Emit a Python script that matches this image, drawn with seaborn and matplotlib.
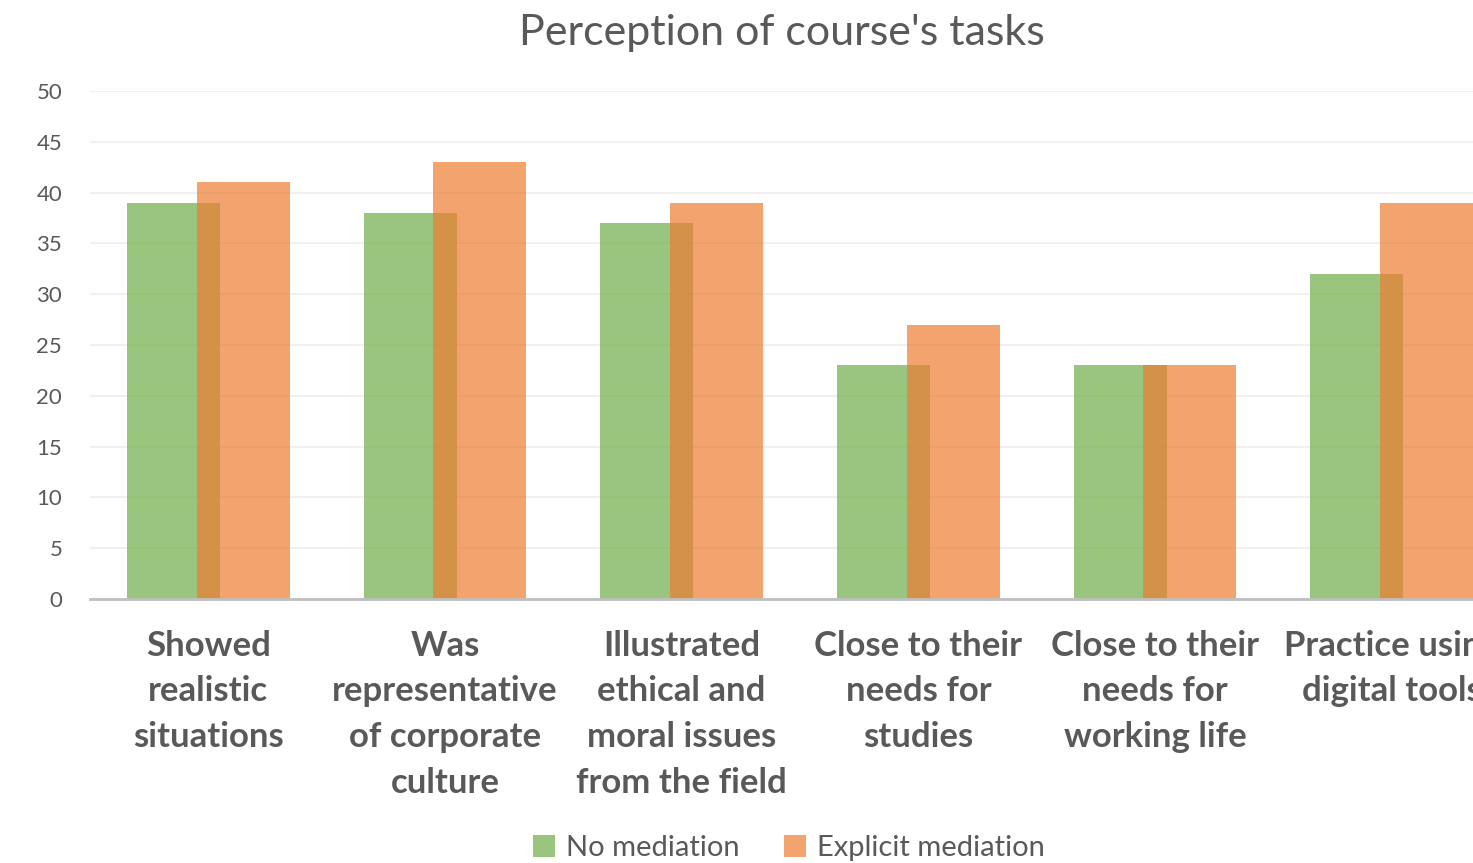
import pandas as pd
import matplotlib.pyplot as plt
import seaborn as sns

# data
categories = [
    "Showed\nrealistic\nsituations",
    "Was\nrepresentative\nof corporate\nculture",
    "Illustrated\nethical and\nmoral issues\nfrom the field",
    "Close to their\nneeds for\nstudies",
    "Close to their\nneeds for\nworking life",
    "Practice using\ndigital tools",
]
no_mediation = [39, 38, 37, 23, 23, 32]
explicit_mediation = [41, 43, 39, 27, 23, 39]
series_names = ["No mediation", "Explicit mediation"]
y_ticks = [0, 5, 10, 15, 20, 25, 30, 35, 40, 45, 50]

df = pd.DataFrame({
    "task": categories * 2,
    "group": [series_names[0]] * len(categories) + [series_names[1]] * len(categories),
    "count": no_mediation + explicit_mediation,
})

sns.set_style("white")
plt.rcParams['font.family'] = ['Lato', 'DejaVu Sans']
text_grey = "#595959"

fig = plt.figure(figsize=(14.73, 8.63), dpi=100)
# the original chart is cut off on the right, so the axes run past the figure edge
ax = fig.add_axes([90 / 1473, 264 / 863, 1420 / 1473, 508 / 863])

sns.barplot(data=df, x="task", y="count", hue="group", order=categories,
            hue_order=series_names, palette=["#70AD47", "#ED7D31"],
            saturation=1, width=0.59, gap=-0.33, alpha=0.7, linewidth=0, ax=ax)

ax.set_ylim(0, 50)
ax.set_xlim(-0.5, len(categories) - 0.5)
ax.set_yticks(y_ticks)
ax.yaxis.grid(True, color="#EDEDED", linewidth=1.2)
ax.set_axisbelow(True)
for side in ["left", "right", "top"]:
    ax.spines[side].set_visible(False)
ax.spines["bottom"].set_color("#BFBFBF")
ax.spines["bottom"].set_linewidth(2)
ax.set_xlabel("")
ax.set_ylabel("")
ax.tick_params(axis="y", length=0, pad=20, labelsize=16, labelcolor=text_grey)
ax.tick_params(axis="x", length=0, pad=22, labelsize=25, labelcolor=text_grey)
for lbl in ax.get_xticklabels():
    lbl.set_fontweight("bold")
    lbl.set_linespacing(1.53)

fig.text(782 / 1473, 1 - 33 / 863, "Perception of course's tasks",
         ha="center", va="center", fontsize=31, color=text_grey)

sns.move_legend(ax, loc="center", bbox_to_anchor=(789 / 1473, 1 - 848 / 863),
                bbox_transform=fig.transFigure, ncol=2, frameon=False, title=None,
                fontsize=21, handlelength=0.75, handleheight=0.75,
                handletextpad=0.4, columnspacing=1.5, labelcolor=text_grey)

plt.savefig("out.png", dpi=100)
